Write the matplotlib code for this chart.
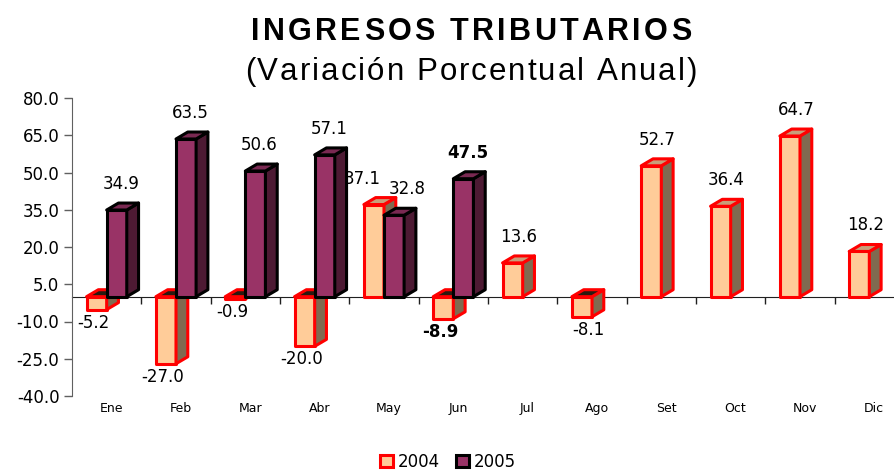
import matplotlib.pyplot as plt
from matplotlib.patches import Polygon, Rectangle

plt.rcParams['font.family'] = ['DejaVu Sans']

# datos
meses = ['Ene', 'Feb', 'Mar', 'Abr', 'May', 'Jun', 'Jul', 'Ago', 'Set', 'Oct', 'Nov', 'Dic']
v2004 = [-5.2, -27.0, -0.9, -20.0, 37.1, -8.9, 13.6, -8.1, 52.7, 36.4, 64.7, 18.2]
v2005 = [34.9, 63.5, 50.6, 57.1, 32.8, 47.5, None, None, None, None, None, None]
ticks_y = [-40.0, -25.0, -10.0, 5.0, 20.0, 35.0, 50.0, 65.0, 80.0]
# etiquetas en negrita (serie, mes)
negrita = [('2004', 5), ('2005', 5)]

W, H = 895, 470
fig = plt.figure(figsize=(W / 100, H / 100), dpi=100)
ax = fig.add_axes([72 / W, 74 / H, 832 / W, 298 / H])
ax.set_xlim(-0.5, 11.5)
ax.set_ylim(-40, 80)

w = 0.29      # ancho frontal de la barra
dx = 0.17     # profundidad horizontal
dy = 2.8      # profundidad vertical


def barra3d(x0, v, cara, lado, tapa, borde):
    lo, hi = min(0, v), max(0, v)
    lw = 2.2
    # cara frontal
    ax.add_patch(Polygon([(x0, lo), (x0 + w, lo), (x0 + w, hi), (x0, hi)],
                         closed=True, fc=cara, ec=borde, lw=lw, zorder=3, joinstyle='round'))
    # lado derecho
    ax.add_patch(Polygon([(x0 + w, lo), (x0 + w + dx, lo + dy), (x0 + w + dx, hi + dy), (x0 + w, hi)],
                         closed=True, fc=lado, ec=borde, lw=lw, zorder=3, joinstyle='round'))
    # tapa
    ax.add_patch(Polygon([(x0, hi), (x0 + w, hi), (x0 + w + dx, hi + dy), (x0 + dx, hi + dy)],
                         closed=True, fc=tapa, ec=borde, lw=lw, zorder=3, joinstyle='round'))


def etiqueta(xc, v, dxp, bold):
    # dxp en pixeles
    off_y = 26 if v >= 0 else -13
    ax.annotate(f'{v:.1f}', xy=(xc, v), xytext=(dxp * 0.72, off_y * 0.72), textcoords='offset points',
                ha='center', va='center', fontsize=12,
                fontweight='bold' if bold else 'normal', zorder=5)


# texto con espaciado entre letras (como el original de Excel)
def texto_espaciado(xc, yb, s, track, **kw):
    r = fig.canvas.get_renderer()

    def ancho(t):
        tt = fig.text(0, 0, t, **kw)
        a = tt.get_window_extent(r).width
        tt.remove()
        return a

    base = ancho('II')
    adv = [ancho('I' + c + 'I') - base for c in s]
    total = sum(adv) + track * (len(s) - 1)
    x = xc - total / 2
    for c, a in zip(s, adv):
        if c != ' ':
            fig.text(x / W, 1 - yb / H, c, ha='left', va='baseline', **kw)
        x += a + track


for i in range(len(meses)):
    a = v2004[i]
    b = v2005[i]
    barra3d(i - w, a, '#FFCC99', '#806A50', '#C89E7A' if a >= 0 else '#2A1A10', '#FF0000')
    if b is None:
        da, db = 6, 0
    elif a > 0 and b > 0 and abs(a - b) < 10:
        da, db = -12, 13
    else:
        da, db = -3, 4
    etiqueta(i - w / 2, a, da, ('2004', i) in negrita)
    if b is not None:
        barra3d(i, b, '#993366', '#4D1A33', '#7A2952', '#000000')
        etiqueta(i + w / 2, b, db, ('2005', i) in negrita)

# ejes
for s in ['top', 'right']:
    ax.spines[s].set_visible(False)
ax.spines['bottom'].set_position(('data', 0))
ax.spines['bottom'].set_color('#202020')
ax.spines['bottom'].set_zorder(1)
ax.spines['left'].set_color('#606060')
ax.set_yticks(ticks_y)
ax.set_yticklabels([f'{t:.1f}' for t in ticks_y], fontsize=12)
ax.tick_params(axis='y', length=6, width=1, color='#606060', pad=3)
ax.set_xticks([i + 0.5 for i in range(len(meses))])
ax.set_xticklabels([])
ax.tick_params(axis='x', length=5, width=1, color='#202020', direction='out')
for i, m in enumerate(meses):
    ax.annotate(m, xy=(i + 0.07, -40), xytext=(0, -9), textcoords='offset points',
                ha='center', va='center', fontsize=9, annotation_clip=False)

# titulo
texto_espaciado(471, 40, 'INGRESOS TRIBUTARIOS', 3.3, fontsize=22, fontweight='bold',
                family='Liberation Sans')
texto_espaciado(471, 80, '(Variación Porcentual Anual)', 2.0, fontsize=22.5,
                family='Liberation Sans')

# leyenda
h1 = Rectangle((0, 0), 1, 1, fc='#FFCC99', ec='#FF0000', lw=2.2)
h2 = Rectangle((0, 0), 1, 1, fc='#993366', ec='#000000', lw=2.2)
fig.legend([h1, h2], ['2004', '2005'], loc='center', bbox_to_anchor=(448 / W, 1 - 462 / H),
           ncol=2, frameon=False, fontsize=12, handlelength=0.75, handleheight=0.75,
           handletextpad=0.3, columnspacing=1.0, borderpad=0)

fig.savefig('out.png', dpi=100)
